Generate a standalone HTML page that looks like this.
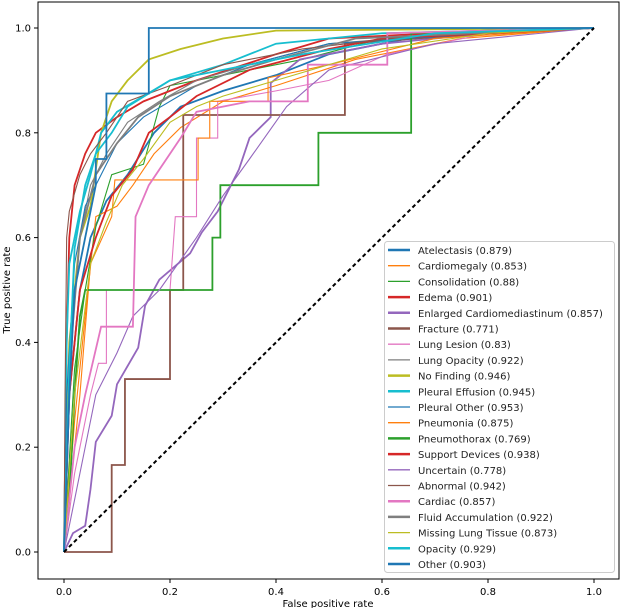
<!DOCTYPE html>
<html><head><meta charset="utf-8"><style>
body{margin:0;background:#fff;}
svg{display:block;font-family:"DejaVu Sans","Liberation Sans",sans-serif;}
</style></head><body>
<svg id="chart" width="620" height="608">
</svg>
<script>
const names=["Atelectasis (0.879)","Cardiomegaly (0.853)","Consolidation (0.88)","Edema (0.901)","Enlarged Cardiomediastinum (0.857)","Fracture (0.771)","Lung Lesion (0.83)","Lung Opacity (0.922)","No Finding (0.946)","Pleural Effusion (0.945)","Pleural Other (0.953)","Pneumonia (0.875)","Pneumothorax (0.769)","Support Devices (0.938)","Uncertain (0.778)","Abnormal (0.942)","Cardiac (0.857)","Fluid Accumulation (0.922)","Missing Lung Tissue (0.873)","Opacity (0.929)","Other (0.903)"];
const colors=["#1f77b4","#ff7f0e","#2ca02c","#d62728","#9467bd","#8c564b","#e377c2","#7f7f7f","#bcbd22","#17becf","#1f77b4","#ff7f0e","#2ca02c","#d62728","#9467bd","#8c564b","#e377c2","#7f7f7f","#bcbd22","#17becf","#1f77b4"];
const widths=[2,1,1,2,2,2,1,1,2,2,1,1,2,2,1,1,2,2,1,2,2];
const fprs=[
[0,0.01,0.03,0.05,0.08,0.12,0.17,0.22,0.3,0.4,0.5,0.7,1],
[0,0.02,0.04,0.06,0.1,0.13,0.17,0.22,0.3,0.4,0.55,0.75,1],
[0,0.02,0.04,0.06,0.09,0.15,0.18,0.2,0.3,0.45,0.6,1],
[0,0.005,0.01,0.02,0.04,0.06,0.1,0.15,0.25,0.4,0.5,0.7,1],
[0,0.017,0.04,0.05,0.06,0.09,0.1,0.14,0.153,0.18,0.238,0.26,0.29,0.33,0.35,0.39,0.39,0.445,0.6,0.8,1],
[0,0.09,0.09,0.115,0.115,0.2,0.2,0.225,0.225,0.53,0.53,0.8,1],
[0,0.02,0.05,0.065,0.08,0.08,0.2,0.21,0.25,0.25,0.29,0.29,0.4,0.5,0.61,0.8,1],
[0,0.01,0.03,0.05,0.08,0.12,0.18,0.25,0.35,0.5,0.75,1],
[0,0.01,0.03,0.05,0.07,0.09,0.12,0.16,0.22,0.3,0.4,1],
[0,0.005,0.01,0.03,0.05,0.07,0.1,0.15,0.2,0.3,0.4,0.6,1],
[0,0.005,0.02,0.04,0.07,0.1,0.15,0.25,0.35,0.5,0.8,1],
[0,0.03,0.05,0.09,0.096,0.253,0.253,0.275,0.275,0.385,0.385,0.5,0.7,1],
[0,0.01,0.02,0.03,0.04,0.28,0.28,0.295,0.295,0.48,0.48,0.655,0.655,0.8,1],
[0,0.01,0.03,0.06,0.09,0.13,0.16,0.2,0.25,0.35,0.5,0.6,1],
[0,0.02,0.04,0.06,0.1,0.13,0.18,0.25,0.3,0.35,0.42,0.5,0.7,1],
[0,0.002,0.005,0.01,0.03,0.05,0.08,0.12,0.2,0.3,0.45,0.7,1],
[0,0.02,0.04,0.07,0.13,0.135,0.16,0.22,0.25,0.35,0.46,0.46,0.61,0.61,1],
[0,0.01,0.03,0.06,0.1,0.14,0.2,0.3,0.4,0.55,1],
[0,0.02,0.05,0.08,0.11,0.15,0.2,0.25,0.3,0.4,0.6,0.8,1],
[0,0.01,0.02,0.04,0.06,0.09,0.12,0.2,0.3,0.45,0.7,1],
[0,0.01,0.02,0.04,0.06,0.06,0.08,0.08,0.16,0.16,1]
];
const tprs=[
[0,0.3,0.5,0.6,0.67,0.72,0.8,0.85,0.88,0.91,0.95,0.99,1],
[0,0.25,0.45,0.64,0.66,0.7,0.76,0.81,0.86,0.89,0.94,0.98,1],
[0,0.35,0.5,0.62,0.72,0.74,0.85,0.89,0.91,0.94,0.98,1],
[0,0.4,0.6,0.7,0.76,0.8,0.83,0.86,0.9,0.95,0.98,0.99,1],
[0,0.036,0.05,0.12,0.21,0.26,0.32,0.39,0.47,0.52,0.57,0.61,0.65,0.73,0.79,0.83,0.895,0.94,0.97,0.99,1],
[0,0,0.166,0.166,0.33,0.33,0.5,0.5,0.834,0.834,0.97,0.99,1],
[0,0.15,0.3,0.36,0.36,0.5,0.5,0.64,0.64,0.79,0.79,0.86,0.88,0.9,0.95,0.99,1],
[0,0.4,0.6,0.7,0.76,0.82,0.86,0.9,0.93,0.97,0.99,1],
[0,0.4,0.6,0.66,0.8,0.86,0.9,0.94,0.96,0.98,0.995,1],
[0,0.4,0.55,0.65,0.72,0.8,0.84,0.87,0.9,0.93,0.97,0.99,1],
[0,0.3,0.55,0.66,0.72,0.78,0.83,0.89,0.93,0.97,0.99,1],
[0,0.3,0.55,0.64,0.71,0.71,0.79,0.79,0.86,0.86,0.905,0.93,0.98,1],
[0,0.1,0.3,0.45,0.5,0.5,0.6,0.6,0.7,0.7,0.8,0.8,0.99,0.995,1],
[0,0.3,0.5,0.6,0.68,0.73,0.8,0.83,0.87,0.92,0.96,0.98,1],
[0,0.1,0.2,0.3,0.38,0.45,0.5,0.6,0.68,0.75,0.85,0.92,0.97,1],
[0,0.3,0.6,0.65,0.72,0.76,0.8,0.86,0.89,0.93,0.96,0.99,1],
[0,0.2,0.3,0.43,0.43,0.64,0.7,0.79,0.84,0.86,0.86,0.93,0.93,0.99,1],
[0,0.35,0.6,0.72,0.78,0.83,0.87,0.91,0.94,0.98,1],
[0,0.3,0.55,0.63,0.7,0.75,0.82,0.85,0.87,0.9,0.96,0.99,1],
[0,0.35,0.58,0.7,0.76,0.8,0.85,0.9,0.92,0.95,0.99,1],
[0,0.3,0.5,0.6,0.7,0.75,0.75,0.875,0.875,1,1]
];
const xTicks=[0,0.2,0.4,0.6,0.8,1];
const yTicks=[0,0.2,0.4,0.6,0.8,1];
const tickLabels=["0.0","0.2","0.4","0.6","0.8","1.0"];

const NS="http://www.w3.org/2000/svg";
const svg=document.getElementById('chart');
const X=v=>64+v*530, Y=v=>552-v*524;
function mk(tag,attrs,parent){const e=document.createElementNS(NS,tag);for(const k in attrs)e.setAttribute(k,attrs[k]);(parent||svg).appendChild(e);return e;}

const frame=mk('rect',{x:38,y:2,width:581,height:577,fill:'none',stroke:'#000','stroke-width':1});



xTicks.forEach((t,i)=>{
  const l=mk('line',{x1:X(t),x2:X(t),y1:579,y2:583,stroke:'#000'});
  
  
  const tx=mk('text',{x:X(t),y:595,'font-size':10,'text-anchor':'middle',fill:'#000'});
  tx.textContent=tickLabels[i];
  
  
});
yTicks.forEach((t,i)=>{
  const l=mk('line',{x1:34,x2:38,y1:Y(t),y2:Y(t),stroke:'#000'});
  
  
  const tx=mk('text',{x:31,y:Y(t)+3.5,'font-size':10,'text-anchor':'end',fill:'#000'});
  tx.textContent=tickLabels[i];
  
  
});
const xt=mk('text',{x:328,y:607,'font-size':10,'text-anchor':'middle'});
xt.textContent='False positive rate';


const yt=mk('text',{x:0,y:0,'font-size':10,'text-anchor':'middle',transform:'translate(10,290) rotate(-90)'});
yt.textContent='True positive rate';



for(let s=0;s<names.length;s++){
  const fx=fprs[s], ty=tprs[s];
  let d='M'+X(fx[0])+','+Y(ty[0]);
  for(let i=1;i<fx.length;i++){d+=' L'+X(fx[i])+','+Y(ty[i]);}
  const p=mk('path',{d:d,fill:'none',stroke:colors[s],'stroke-width':widths[s]==2?1.8:1.1,'stroke-linejoin':'miter'});
  
  
}
const diag=mk('line',{x1:X(0),y1:Y(0),x2:X(1),y2:Y(1),stroke:'#000','stroke-width':2,'stroke-dasharray':'4,3'});



const lg=mk('g',{});


mk('rect',{x:384.5,y:241.5,width:230,height:331,rx:3,fill:'#fff','fill-opacity':0.85,stroke:'#ccc'},lg);
names.forEach((n,i)=>{
  const y=250+i*15.7;
  const ln=mk('line',{x1:388,x2:410,y1:y,y2:y,stroke:colors[i],'stroke-width':widths[i]==2?2.5:1.3},lg);
  
  
  const t=mk('text',{x:418,y:y+4,'font-size':10,fill:'#222'},lg);
  t.textContent=n;
  
  
});
</script>
</body></html>
